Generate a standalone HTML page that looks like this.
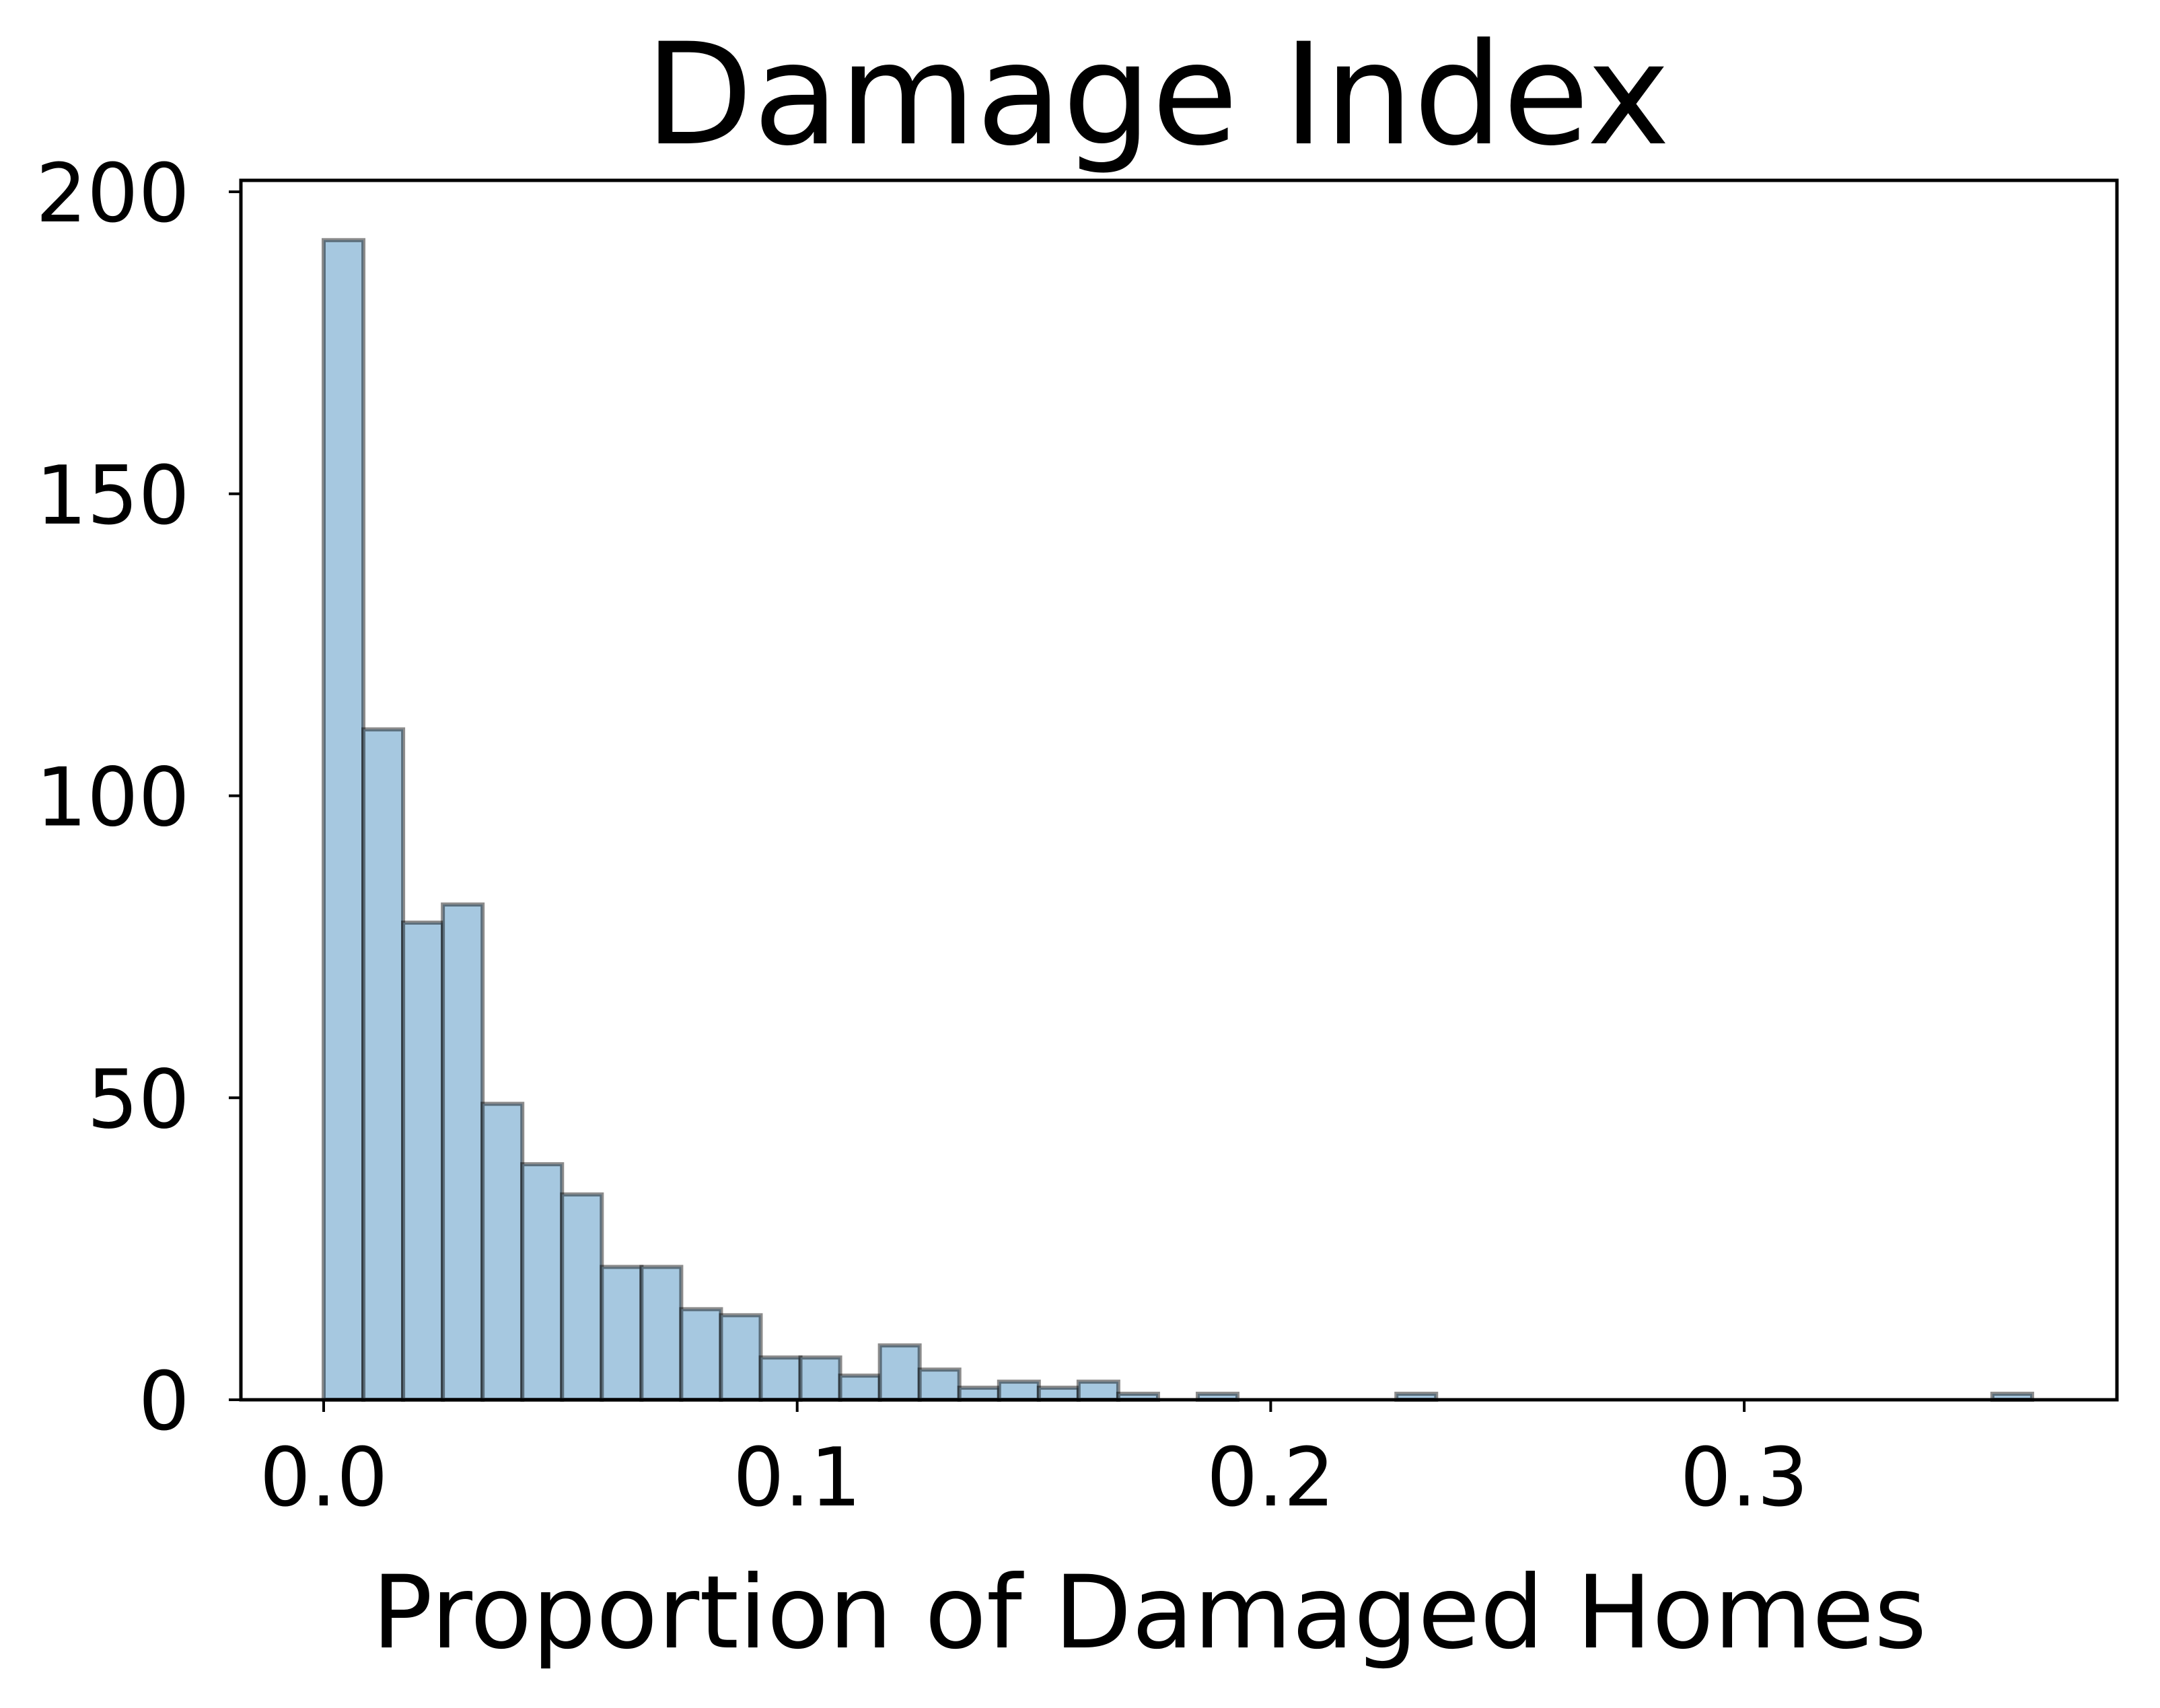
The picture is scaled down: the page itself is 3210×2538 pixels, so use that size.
<!DOCTYPE html>
<html><head><meta charset="utf-8"><style>
html,body{margin:0;padding:0;background:#fff;}
svg{display:block;font-family:"DejaVu Sans","Liberation Sans",sans-serif;}
</style></head><body>
<svg id="chart" width="3210" height="2538" viewBox="0 0 3210 2538" xmlns="http://www.w3.org/2000/svg">
<rect width="3210" height="2538" fill="#fff"/>
<text x="1720" y="213" font-size="209" text-anchor="middle">Damage Index</text>
<g id="bars"></g>
<rect x="358" y="268" width="2788" height="1812" fill="none" stroke="#000" stroke-width="5"/>
<g id="axes"></g>
<text x="1708" y="2448" font-size="150" text-anchor="middle">Proportion of Damaged Homes</text>
</svg>
<script>
const counts = [192,111,79,82,49,39,34,22,22,15,14,7,7,4,9,5,2,3,2,3,1,0,1,0,0,0,0,1,0,0,0,0,0,0,0,0,0,0,0,0,0,0,1];
const binMax = [0.3608];
const xTicks = [0.0,0.1,0.2,0.3];
const xTickLabels = ["0.0","0.1","0.2","0.3"];
const yTicks = [0,50,100,150,200];
const yTickLabels = ["0","50","100","150","200"];

const NS = "http://www.w3.org/2000/svg";
const x = v => 481 + v * 7037;
const y = v => 2080 - v * 8.975;
const bw = binMax[0] / counts.length;
const bars = document.getElementById('bars');
counts.forEach((c, i) => {
  if (c <= 0) return;
  const r = document.createElementNS(NS, 'rect');
  
  
  r.setAttribute('x', x(i * bw));
  r.setAttribute('width', x((i + 1) * bw) - x(i * bw));
  r.setAttribute('y', y(c));
  r.setAttribute('height', y(0) - y(c));
  r.setAttribute('fill', '#a6c8e0');
  r.setAttribute('stroke', 'rgba(0,0,0,0.45)');
  r.setAttribute('stroke-width', '6');
  bars.appendChild(r);
});
const axes = document.getElementById('axes');
xTicks.forEach((t, i) => {
  const l = document.createElementNS(NS, 'line');
  
  
  l.setAttribute('x1', x(t)); l.setAttribute('x2', x(t));
  l.setAttribute('y1', 2080); l.setAttribute('y2', 2098);
  l.setAttribute('stroke', '#000'); l.setAttribute('stroke-width', '4');
  axes.appendChild(l);
  const tx = document.createElementNS(NS, 'text');
  
  
  tx.setAttribute('x', x(t)); tx.setAttribute('y', 2237);
  tx.setAttribute('font-size', '120'); tx.setAttribute('text-anchor', 'middle');
  tx.textContent = xTickLabels[i];
  axes.appendChild(tx);
});
yTicks.forEach((t, i) => {
  const l = document.createElementNS(NS, 'line');
  
  
  l.setAttribute('x1', 340); l.setAttribute('x2', 358);
  l.setAttribute('y1', y(t)); l.setAttribute('y2', y(t));
  l.setAttribute('stroke', '#000'); l.setAttribute('stroke-width', '4');
  axes.appendChild(l);
  const tx = document.createElementNS(NS, 'text');
  
  
  tx.setAttribute('x', 282); tx.setAttribute('y', y(t) + 44);
  tx.setAttribute('font-size', '120'); tx.setAttribute('text-anchor', 'end');
  tx.textContent = yTickLabels[i];
  axes.appendChild(tx);
});
</script>
</body></html>
